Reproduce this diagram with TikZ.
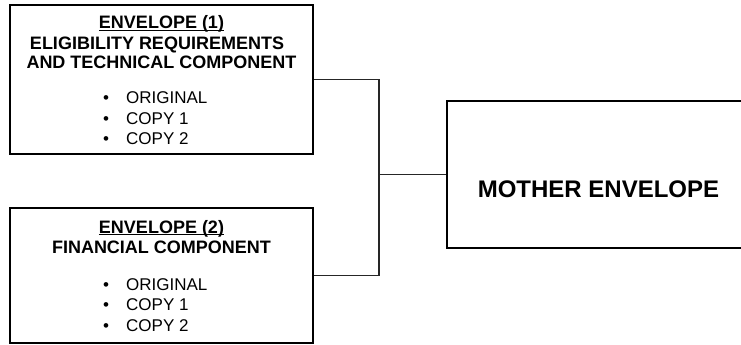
\documentclass[tikz,border=0pt]{standalone}
\usepackage{fontspec}
\setmainfont{Liberation Sans}
\begin{document}
\begin{tikzpicture}[x=1pt,y=-1pt,
  envbox/.style={draw=black,line width=1.7pt,fill=none},
  conn/.style={draw=black!85,line width=1.1pt},
  head/.style={inner sep=0pt,anchor=base,font=\fontsize{18}{20}\selectfont\bfseries},
  item/.style={inner sep=0pt,anchor=base west,font=\fontsize{17}{20}\selectfont},
  bigtext/.style={inner sep=0pt,anchor=base,font=\fontsize{24}{28}\selectfont\bfseries}]
\useasboundingbox (0,0) rectangle (741,345);
\clip (0,0) rectangle (741,345);
% boxes
\node[envbox,rectangle,minimum width=303pt,minimum height=149pt,inner sep=0pt] (env1) at (161.5,79.5) {};
\node[envbox,rectangle,minimum width=303pt,minimum height=135pt,inner sep=0pt] (env2) at (161.5,275.5) {};
\node[envbox,rectangle,minimum width=314pt,minimum height=147pt,inner sep=0pt,anchor=west] (mother) at (446,174.5) {};
% texts box 1
\node[head] (h1a) at (161.5,29) {\underline{\smash{ENVELOPE (1)}}};
\node[head] (h1b) at (157,50) {ELIGIBILITY REQUIREMENTS};
\node[head] (h1c) at (161.5,69) {AND TECHNICAL COMPONENT};
\node[item] (i1a) at (103,103) {\makebox[23pt][l]{•}ORIGINAL};
\node[item] (i1b) at (103,124) {\makebox[23pt][l]{•}COPY 1};
\node[item] (i1c) at (103,144) {\makebox[23pt][l]{•}COPY 2};
% texts box 2
\node[head] (h2a) at (161.5,233) {\underline{\smash{ENVELOPE (2)}}};
\node[head] (h2b) at (161.5,253) {FINANCIAL COMPONENT};
\node[item] (i2a) at (103,290) {\makebox[23pt][l]{•}ORIGINAL};
\node[item] (i2b) at (103,310) {\makebox[23pt][l]{•}COPY 1};
\node[item] (i2c) at (103,331) {\makebox[23pt][l]{•}COPY 2};
% mother text
\node[bigtext] (mt) at (598.5,197) {MOTHER ENVELOPE};
% connectors
\coordinate (jn) at (379,174.5);
\draw[conn] (env1.east) -| (jn) |- (env2.east);
\draw[conn] (jn) -- (mother.west);
\end{tikzpicture}
\end{document}
